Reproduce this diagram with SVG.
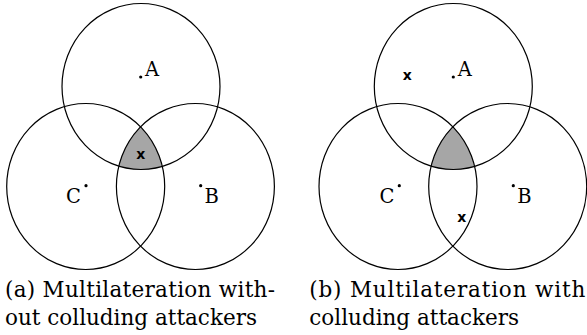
<svg xmlns="http://www.w3.org/2000/svg" width="587" height="335" viewBox="0 0 587 335">
<style>
.c{fill:none;stroke:#000;stroke-width:1.2}
.shade{fill:#a6a6a6;stroke:none}
text.lbl{font-family:"DejaVu Serif","Liberation Serif",serif;font-size:19.5px}
text.cap{font-family:"DejaVu Serif","Liberation Serif",serif;font-size:21.5px}
text.x{font-family:"DejaVu Sans",sans-serif;font-weight:bold;font-size:14px}
</style>
<defs>
<clipPath id="clipC"><ellipse cx="85.7" cy="186.5" rx="79" ry="83"/></clipPath>
<clipPath id="clipB"><ellipse cx="195.4" cy="186.5" rx="79" ry="83"/></clipPath>
</defs>
<g id="panel-a">
<g clip-path="url(#clipB)"><g clip-path="url(#clipC)"><ellipse class="shade" cx="141" cy="86.5" rx="79" ry="83"/></g></g>
<g id="a-nodeA"><ellipse class="c" cx="141" cy="86.5" rx="79" ry="83"/><circle cx="140.7" cy="77" r="1.6"/><text class="lbl" x="145" y="76">A</text></g>
<g id="a-nodeC"><ellipse class="c" cx="85.7" cy="186.5" rx="79" ry="83"/><circle cx="86" cy="185.7" r="1.6"/><text class="lbl" x="81" y="203" text-anchor="end">C</text></g>
<g id="a-nodeB"><ellipse class="c" cx="195.4" cy="186.5" rx="79" ry="83"/><circle cx="200.7" cy="185.7" r="1.6"/><text class="lbl" x="204.5" y="203">B</text></g>
<text class="x" x="140.7" y="159" text-anchor="middle">x</text>
<text class="cap" x="5" y="297" textLength="270" lengthAdjust="spacing">(a) Multilateration with-</text>
<text class="cap" x="5" y="325">out colluding attackers</text>
</g>
<g id="panel-b" transform="translate(312.3,0)">
<g clip-path="url(#clipB)"><g clip-path="url(#clipC)"><ellipse class="shade" cx="141" cy="86.5" rx="79" ry="83"/></g></g>
<g id="b-nodeA"><ellipse class="c" cx="141" cy="86.5" rx="79" ry="83"/><circle cx="141" cy="77" r="1.6"/><text class="lbl" x="145.5" y="76">A</text></g>
<g id="b-nodeC"><ellipse class="c" cx="85.7" cy="186.5" rx="79" ry="83"/><circle cx="87" cy="185.7" r="1.6"/><text class="lbl" x="82" y="203" text-anchor="end">C</text></g>
<g id="b-nodeB"><ellipse class="c" cx="195.4" cy="186.5" rx="79" ry="83"/><circle cx="201" cy="185.7" r="1.6"/><text class="lbl" x="205" y="203">B</text></g>
<text class="x" x="95" y="80" text-anchor="middle">x</text>
<text class="x" x="149.5" y="222" text-anchor="middle">x</text>
<text class="cap" x="-3" y="297" textLength="276" lengthAdjust="spacing">(b) Multilateration with</text>
<text class="cap" x="-3" y="325">colluding attackers</text>
</g>
</svg>
